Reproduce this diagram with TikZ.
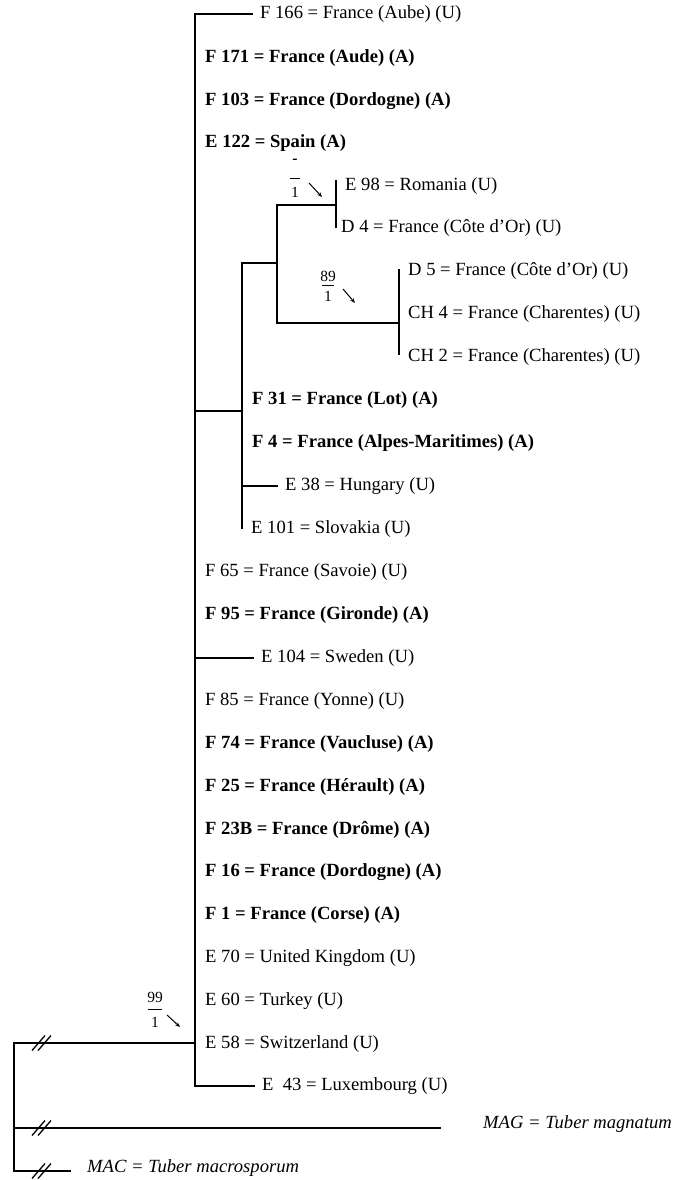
\documentclass[tikz,border=0pt]{standalone}
\usepackage{fontspec}
\setmainfont{Liberation Serif}
\usetikzlibrary{arrows.meta}
\newcommand{\labfont}{\fontsize{18.6}{22}\selectfont}
\newcommand{\supfont}{\fontsize{15.5}{18}\selectfont}
\tikzset{
  lab/.style={anchor=west, inner xsep=3pt, inner ysep=1pt, font=\labfont},
  blab/.style={lab, font=\labfont\bfseries},
  ilab/.style={lab, font=\labfont\itshape},
  branch/.style={line width=1.9pt, line cap=rect},
  tip/.style={line width=1.9pt, shorten >=4pt},
  supnum/.style={inner sep=0pt, font=\supfont},
  supbar/.style={line width=1pt},
  suparrow/.style={line width=1pt, -{Stealth[length=5pt,width=4pt]}},
  brk/.style={line width=1.3pt}
}
\begin{document}
\begin{tikzpicture}[x=1pt,y=-1pt]
\useasboundingbox (0,0) rectangle (675,1180);
% labels
\node[lab]  (f166) at (257,14)   {F 166 = France (Aube) (U)};
\node[blab] (f171) at (202,58)   {F 171 = France (Aude) (A)};
\node[blab] (f103) at (202,101)  {F 103 = France (Dordogne) (A)};
\node[blab] (e122) at (202,143)  {E 122 = Spain (A)};
\node[lab]  (e98)  at (342,186)  {E 98 = Romania (U)};
\node[lab]  (d4)   at (338,228)  {D 4 = France (Côte d’Or) (U)};
\node[lab]  (d5)   at (405,271)  {D 5 = France (Côte d’Or) (U)};
\node[lab]  (ch4)  at (405,314)  {CH 4 = France (Charentes) (U)};
\node[lab]  (ch2)  at (405,357)  {CH 2 = France (Charentes) (U)};
\node[blab] (f31)  at (249,400)  {F 31 = France (Lot) (A)};
\node[blab] (f4)   at (249,443)  {F 4 = France (Alpes-Maritimes) (A)};
\node[lab]  (e38)  at (282,486)  {E 38 = Hungary (U)};
\node[lab]  (e101) at (248,529)  {E 101 = Slovakia (U)};
\node[lab]  (f65)  at (202,572)  {F 65 = France (Savoie) (U)};
\node[blab] (f95)  at (202,615)  {F 95 = France (Gironde) (A)};
\node[lab]  (e104) at (258,658)  {E 104 = Sweden (U)};
\node[lab]  (f85)  at (202,701)  {F 85 = France (Yonne) (U)};
\node[blab] (f74)  at (202,744)  {F 74 = France (Vaucluse) (A)};
\node[blab] (f25)  at (202,787)  {F 25 = France (Hérault) (A)};
\node[blab] (f23b) at (202,830)  {F 23B = France (Drôme) (A)};
\node[blab] (f16)  at (202,872)  {F 16 = France (Dordogne) (A)};
\node[blab] (f1)   at (202,915)  {F 1 = France (Corse) (A)};
\node[lab]  (e70)  at (202,958)  {E 70 = United Kingdom (U)};
\node[lab]  (e60)  at (202,1001) {E 60 = Turkey (U)};
\node[lab]  (e58)  at (202,1044) {E 58 = Switzerland (U)};
\node[lab]  (e43)  at (259,1086) {E~~43 = Luxembourg (U)};
\node[ilab] (mag)  at (480,1124) {MAG = Tuber magnatum};
\node[ilab] (mac)  at (84,1168)  {MAC = Tuber macrosporum};
% branch points
\coordinate (mtop) at (195,14);
\coordinate (mbot) at (195,1086);
\coordinate (m104) at (195,658);
\coordinate (msub) at (195,411);
\coordinate (m58)  at (195,1043);
\coordinate (ssub) at (242,411);
\coordinate (stop) at (242,263);
\coordinate (sbot) at (242,528);
\coordinate (s38)  at (242,486);
\coordinate (c1)   at (277,263);
\coordinate (c1t)  at (277,205);
\coordinate (c1b)  at (277,323);
\coordinate (c2m)  at (336,205);
\coordinate (c2t)  at (336,181);
\coordinate (c2b)  at (336,227);
\coordinate (c3m)  at (399,323);
\coordinate (c3t)  at (399,270);
\coordinate (c3b)  at (399,354);
\coordinate (rtop) at (14,1043);
\coordinate (rmag) at (14,1128);
\coordinate (rbot) at (14,1171);
\coordinate (magend) at (440,1128);
\coordinate (macend) at (70,1171);
% tree
\draw[branch] (mtop) -- (mbot);
\draw[tip] (mtop) -- (f166.west);
\draw[tip] (mbot) -- (e43.west);
\draw[tip] (m104) -- (e104.west);
\draw[branch] (msub) -- (ssub);
\draw[branch] (stop) -- (sbot);
\draw[tip] (s38) -- (e38.west);
\draw[branch] (stop) -- (c1);
\draw[branch] (c1t) -- (c1b);
\draw[branch] (c1t) -- (c2m);
\draw[branch] (c2t) -- (c2b);
\draw[branch] (c1b) -- (c3m);
\draw[branch] (c3t) -- (c3b);
\draw[branch] (rtop) -- (rbot);
\draw[branch] (rtop) -- (m58);
\draw[branch] (rmag) -- (magend);
\draw[branch] (rbot) -- (macend);
% break marks
\foreach \yy in {1043,1128,1171}{
  \draw[brk] (32,\yy+7.5) -- (45,\yy-7.5);
  \draw[brk] (38,\yy+7.5) -- (51,\yy-7.5);
}
% support values
\node[supnum] (sa) at (295,161) {\textbf{-}};
\node[supnum] (sb) at (295,192) {1};
\draw[supbar] ([xshift=-5pt]sa.center |- 0,178) -- ([xshift=5pt]sa.center |- 0,178);
\coordinate (aa1) at (309,183);
\coordinate (aa2) at (322,197);
\draw[suparrow] (aa1) -- (aa2);

\node[supnum] (sc) at (328,276) {89};
\node[supnum] (sd) at (328,296) {1};
\draw[supbar] ([xshift=-6pt]sc.center |- 0,285) -- ([xshift=6pt]sc.center |- 0,285);
\coordinate (ab1) at (343,289);
\coordinate (ab2) at (355,303);
\draw[suparrow] (ab1) -- (ab2);

\node[supnum] (se) at (155,997) {99};
\node[supnum] (sf) at (155,1022) {1};
\draw[supbar] ([xshift=-7pt]se.center |- 0,1009) -- ([xshift=7pt]se.center |- 0,1009);
\coordinate (ac1) at (167,1015);
\coordinate (ac2) at (180,1027);
\draw[suparrow] (ac1) -- (ac2);
\end{tikzpicture}
\end{document}
